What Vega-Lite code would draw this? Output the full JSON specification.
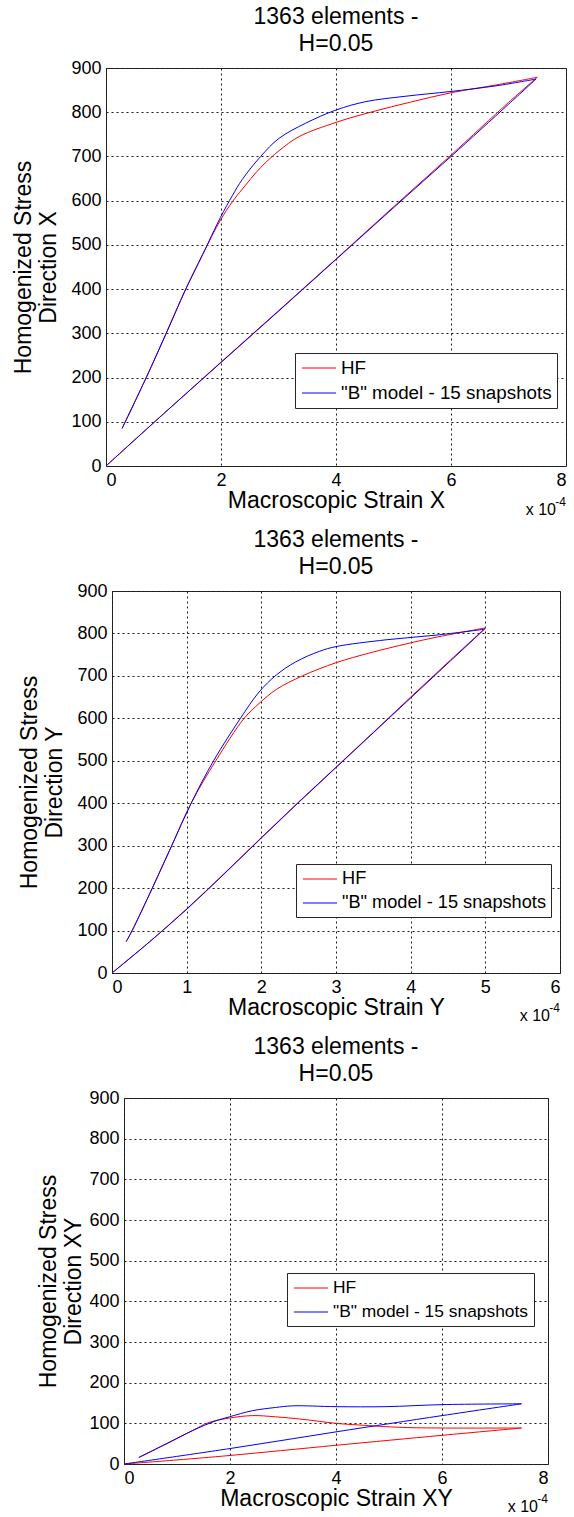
{
  "$schema": "https://vega.github.io/schema/vega-lite/v6.json",
  "padding": {"left": 12, "top": 5, "right": 5, "bottom": 5},
  "datasets": {
    "curves": [
      {"panel": "X", "series": "HF", "branch": "loading", "step": 1, "strain": 0.28, "stress": 85},
      {"panel": "X", "series": "HF", "branch": "loading", "step": 2, "strain": 0.7, "stress": 200},
      {"panel": "X", "series": "HF", "branch": "loading", "step": 3, "strain": 1.04, "stress": 298},
      {"panel": "X", "series": "HF", "branch": "loading", "step": 4, "strain": 1.38, "stress": 398},
      {"panel": "X", "series": "HF", "branch": "loading", "step": 5, "strain": 1.68, "stress": 478},
      {"panel": "X", "series": "HF", "branch": "loading", "step": 6, "strain": 1.99, "stress": 556},
      {"panel": "X", "series": "HF", "branch": "loading", "step": 7, "strain": 2.2, "stress": 598},
      {"panel": "X", "series": "HF", "branch": "loading", "step": 8, "strain": 2.37, "stress": 626},
      {"panel": "X", "series": "HF", "branch": "loading", "step": 9, "strain": 2.69, "stress": 675},
      {"panel": "X", "series": "HF", "branch": "loading", "step": 10, "strain": 3.01, "stress": 713},
      {"panel": "X", "series": "HF", "branch": "loading", "step": 11, "strain": 3.36, "stress": 745},
      {"panel": "X", "series": "HF", "branch": "loading", "step": 12, "strain": 4.0, "stress": 777},
      {"panel": "X", "series": "HF", "branch": "loading", "step": 13, "strain": 4.63, "stress": 801},
      {"panel": "X", "series": "HF", "branch": "loading", "step": 14, "strain": 5.3, "stress": 823},
      {"panel": "X", "series": "HF", "branch": "loading", "step": 15, "strain": 6.0, "stress": 844},
      {"panel": "X", "series": "HF", "branch": "loading", "step": 16, "strain": 6.8, "stress": 862},
      {"panel": "X", "series": "HF", "branch": "loading", "step": 17, "strain": 7.5, "stress": 879},
      {"panel": "X", "series": "HF", "branch": "unloading", "step": 17, "strain": 7.5, "stress": 879},
      {"panel": "X", "series": "HF", "branch": "unloading", "step": 18, "strain": 7.0, "stress": 822},
      {"panel": "X", "series": "HF", "branch": "unloading", "step": 19, "strain": 6.0, "stress": 703},
      {"panel": "X", "series": "HF", "branch": "unloading", "step": 20, "strain": 5.0, "stress": 586},
      {"panel": "X", "series": "HF", "branch": "unloading", "step": 21, "strain": 4.0, "stress": 468},
      {"panel": "X", "series": "HF", "branch": "unloading", "step": 22, "strain": 3.0, "stress": 351},
      {"panel": "X", "series": "HF", "branch": "unloading", "step": 23, "strain": 2.0, "stress": 235},
      {"panel": "X", "series": "HF", "branch": "unloading", "step": 24, "strain": 1.0, "stress": 118},
      {"panel": "X", "series": "HF", "branch": "unloading", "step": 25, "strain": 0, "stress": 0},

      {"panel": "X", "series": "\"B\" model - 15 snapshots", "branch": "loading", "step": 1, "strain": 0.28, "stress": 85},
      {"panel": "X", "series": "\"B\" model - 15 snapshots", "branch": "loading", "step": 2, "strain": 0.7, "stress": 200},
      {"panel": "X", "series": "\"B\" model - 15 snapshots", "branch": "loading", "step": 3, "strain": 1.04, "stress": 298},
      {"panel": "X", "series": "\"B\" model - 15 snapshots", "branch": "loading", "step": 4, "strain": 1.38, "stress": 398},
      {"panel": "X", "series": "\"B\" model - 15 snapshots", "branch": "loading", "step": 5, "strain": 1.68, "stress": 478},
      {"panel": "X", "series": "\"B\" model - 15 snapshots", "branch": "loading", "step": 6, "strain": 1.99, "stress": 562},
      {"panel": "X", "series": "\"B\" model - 15 snapshots", "branch": "loading", "step": 7, "strain": 2.2, "stress": 612},
      {"panel": "X", "series": "\"B\" model - 15 snapshots", "branch": "loading", "step": 8, "strain": 2.37, "stress": 648},
      {"panel": "X", "series": "\"B\" model - 15 snapshots", "branch": "loading", "step": 9, "strain": 2.69, "stress": 700},
      {"panel": "X", "series": "\"B\" model - 15 snapshots", "branch": "loading", "step": 10, "strain": 3.01, "stress": 741},
      {"panel": "X", "series": "\"B\" model - 15 snapshots", "branch": "loading", "step": 11, "strain": 3.47, "stress": 775},
      {"panel": "X", "series": "\"B\" model - 15 snapshots", "branch": "loading", "step": 12, "strain": 4.0, "stress": 805},
      {"panel": "X", "series": "\"B\" model - 15 snapshots", "branch": "loading", "step": 13, "strain": 4.52, "stress": 824},
      {"panel": "X", "series": "\"B\" model - 15 snapshots", "branch": "loading", "step": 14, "strain": 5.2, "stress": 836},
      {"panel": "X", "series": "\"B\" model - 15 snapshots", "branch": "loading", "step": 15, "strain": 6.0, "stress": 847},
      {"panel": "X", "series": "\"B\" model - 15 snapshots", "branch": "loading", "step": 16, "strain": 6.8, "stress": 860},
      {"panel": "X", "series": "\"B\" model - 15 snapshots", "branch": "loading", "step": 17, "strain": 7.48, "stress": 875},
      {"panel": "X", "series": "\"B\" model - 15 snapshots", "branch": "unloading", "step": 17, "strain": 7.48, "stress": 875},
      {"panel": "X", "series": "\"B\" model - 15 snapshots", "branch": "unloading", "step": 18, "strain": 7.0, "stress": 818},
      {"panel": "X", "series": "\"B\" model - 15 snapshots", "branch": "unloading", "step": 19, "strain": 6.0, "stress": 700},
      {"panel": "X", "series": "\"B\" model - 15 snapshots", "branch": "unloading", "step": 20, "strain": 5.0, "stress": 584},
      {"panel": "X", "series": "\"B\" model - 15 snapshots", "branch": "unloading", "step": 21, "strain": 4.0, "stress": 467},
      {"panel": "X", "series": "\"B\" model - 15 snapshots", "branch": "unloading", "step": 22, "strain": 3.0, "stress": 350},
      {"panel": "X", "series": "\"B\" model - 15 snapshots", "branch": "unloading", "step": 23, "strain": 2.0, "stress": 234},
      {"panel": "X", "series": "\"B\" model - 15 snapshots", "branch": "unloading", "step": 24, "strain": 1.0, "stress": 118},
      {"panel": "X", "series": "\"B\" model - 15 snapshots", "branch": "unloading", "step": 25, "strain": 0, "stress": 0},

      {"panel": "Y", "series": "HF", "branch": "loading", "step": 1, "strain": 0.19, "stress": 74},
      {"panel": "Y", "series": "HF", "branch": "loading", "step": 2, "strain": 0.27, "stress": 100},
      {"panel": "Y", "series": "HF", "branch": "loading", "step": 3, "strain": 0.54, "stress": 200},
      {"panel": "Y", "series": "HF", "branch": "loading", "step": 4, "strain": 0.8, "stress": 300},
      {"panel": "Y", "series": "HF", "branch": "loading", "step": 5, "strain": 1.06, "stress": 400},
      {"panel": "Y", "series": "HF", "branch": "loading", "step": 6, "strain": 1.39, "stress": 500},
      {"panel": "Y", "series": "HF", "branch": "loading", "step": 7, "strain": 1.77, "stress": 600},
      {"panel": "Y", "series": "HF", "branch": "loading", "step": 8, "strain": 1.97, "stress": 635},
      {"panel": "Y", "series": "HF", "branch": "loading", "step": 9, "strain": 2.2, "stress": 668},
      {"panel": "Y", "series": "HF", "branch": "loading", "step": 10, "strain": 2.55, "stress": 700},
      {"panel": "Y", "series": "HF", "branch": "loading", "step": 11, "strain": 3.0, "stress": 731},
      {"panel": "Y", "series": "HF", "branch": "loading", "step": 12, "strain": 3.45, "stress": 754},
      {"panel": "Y", "series": "HF", "branch": "loading", "step": 13, "strain": 3.98, "stress": 777},
      {"panel": "Y", "series": "HF", "branch": "loading", "step": 14, "strain": 4.34, "stress": 791},
      {"panel": "Y", "series": "HF", "branch": "loading", "step": 15, "strain": 5.0, "stress": 813},
      {"panel": "Y", "series": "HF", "branch": "unloading", "step": 15, "strain": 5.0, "stress": 813},
      {"panel": "Y", "series": "HF", "branch": "unloading", "step": 16, "strain": 4.5, "stress": 732},
      {"panel": "Y", "series": "HF", "branch": "unloading", "step": 17, "strain": 4.0, "stress": 650},
      {"panel": "Y", "series": "HF", "branch": "unloading", "step": 18, "strain": 3.5, "stress": 567},
      {"panel": "Y", "series": "HF", "branch": "unloading", "step": 19, "strain": 3.0, "stress": 485},
      {"panel": "Y", "series": "HF", "branch": "unloading", "step": 20, "strain": 2.5, "stress": 403},
      {"panel": "Y", "series": "HF", "branch": "unloading", "step": 21, "strain": 2.0, "stress": 319},
      {"panel": "Y", "series": "HF", "branch": "unloading", "step": 22, "strain": 1.5, "stress": 234},
      {"panel": "Y", "series": "HF", "branch": "unloading", "step": 23, "strain": 1.0, "stress": 151},
      {"panel": "Y", "series": "HF", "branch": "unloading", "step": 24, "strain": 0.5, "stress": 73},
      {"panel": "Y", "series": "HF", "branch": "unloading", "step": 25, "strain": 0, "stress": 0},

      {"panel": "Y", "series": "\"B\" model - 15 snapshots", "branch": "loading", "step": 1, "strain": 0.19, "stress": 74},
      {"panel": "Y", "series": "\"B\" model - 15 snapshots", "branch": "loading", "step": 2, "strain": 0.27, "stress": 100},
      {"panel": "Y", "series": "\"B\" model - 15 snapshots", "branch": "loading", "step": 3, "strain": 0.54, "stress": 200},
      {"panel": "Y", "series": "\"B\" model - 15 snapshots", "branch": "loading", "step": 4, "strain": 0.8, "stress": 300},
      {"panel": "Y", "series": "\"B\" model - 15 snapshots", "branch": "loading", "step": 5, "strain": 1.06, "stress": 400},
      {"panel": "Y", "series": "\"B\" model - 15 snapshots", "branch": "loading", "step": 6, "strain": 1.36, "stress": 500},
      {"panel": "Y", "series": "\"B\" model - 15 snapshots", "branch": "loading", "step": 7, "strain": 1.72, "stress": 600},
      {"panel": "Y", "series": "\"B\" model - 15 snapshots", "branch": "loading", "step": 8, "strain": 1.97, "stress": 662},
      {"panel": "Y", "series": "\"B\" model - 15 snapshots", "branch": "loading", "step": 9, "strain": 2.2, "stress": 702},
      {"panel": "Y", "series": "\"B\" model - 15 snapshots", "branch": "loading", "step": 10, "strain": 2.46, "stress": 733},
      {"panel": "Y", "series": "\"B\" model - 15 snapshots", "branch": "loading", "step": 11, "strain": 2.78, "stress": 758},
      {"panel": "Y", "series": "\"B\" model - 15 snapshots", "branch": "loading", "step": 12, "strain": 3.0, "stress": 769},
      {"panel": "Y", "series": "\"B\" model - 15 snapshots", "branch": "loading", "step": 13, "strain": 3.67, "stress": 785},
      {"panel": "Y", "series": "\"B\" model - 15 snapshots", "branch": "loading", "step": 14, "strain": 4.34, "stress": 796},
      {"panel": "Y", "series": "\"B\" model - 15 snapshots", "branch": "loading", "step": 15, "strain": 4.99, "stress": 810},
      {"panel": "Y", "series": "\"B\" model - 15 snapshots", "branch": "unloading", "step": 15, "strain": 4.99, "stress": 810},
      {"panel": "Y", "series": "\"B\" model - 15 snapshots", "branch": "unloading", "step": 16, "strain": 4.5, "stress": 730},
      {"panel": "Y", "series": "\"B\" model - 15 snapshots", "branch": "unloading", "step": 17, "strain": 4.0, "stress": 648},
      {"panel": "Y", "series": "\"B\" model - 15 snapshots", "branch": "unloading", "step": 18, "strain": 3.5, "stress": 566},
      {"panel": "Y", "series": "\"B\" model - 15 snapshots", "branch": "unloading", "step": 19, "strain": 3.0, "stress": 484},
      {"panel": "Y", "series": "\"B\" model - 15 snapshots", "branch": "unloading", "step": 20, "strain": 2.5, "stress": 402},
      {"panel": "Y", "series": "\"B\" model - 15 snapshots", "branch": "unloading", "step": 21, "strain": 2.0, "stress": 318},
      {"panel": "Y", "series": "\"B\" model - 15 snapshots", "branch": "unloading", "step": 22, "strain": 1.5, "stress": 233},
      {"panel": "Y", "series": "\"B\" model - 15 snapshots", "branch": "unloading", "step": 23, "strain": 1.0, "stress": 150},
      {"panel": "Y", "series": "\"B\" model - 15 snapshots", "branch": "unloading", "step": 24, "strain": 0.5, "stress": 73},
      {"panel": "Y", "series": "\"B\" model - 15 snapshots", "branch": "unloading", "step": 25, "strain": 0, "stress": 0},

      {"panel": "XY", "series": "HF", "branch": "loading", "step": 1, "strain": 0.28, "stress": 16},
      {"panel": "XY", "series": "HF", "branch": "loading", "step": 2, "strain": 0.85, "stress": 53},
      {"panel": "XY", "series": "HF", "branch": "loading", "step": 3, "strain": 1.29, "stress": 82},
      {"panel": "XY", "series": "HF", "branch": "loading", "step": 4, "strain": 1.6, "stress": 102},
      {"panel": "XY", "series": "HF", "branch": "loading", "step": 5, "strain": 1.99, "stress": 113},
      {"panel": "XY", "series": "HF", "branch": "loading", "step": 6, "strain": 2.42, "stress": 119},
      {"panel": "XY", "series": "HF", "branch": "loading", "step": 7, "strain": 2.86, "stress": 116},
      {"panel": "XY", "series": "HF", "branch": "loading", "step": 8, "strain": 3.36, "stress": 110},
      {"panel": "XY", "series": "HF", "branch": "loading", "step": 9, "strain": 4.0, "stress": 100},
      {"panel": "XY", "series": "HF", "branch": "loading", "step": 10, "strain": 4.43, "stress": 96},
      {"panel": "XY", "series": "HF", "branch": "loading", "step": 11, "strain": 5.25, "stress": 90},
      {"panel": "XY", "series": "HF", "branch": "loading", "step": 12, "strain": 6.0, "stress": 88.5},
      {"panel": "XY", "series": "HF", "branch": "loading", "step": 13, "strain": 7.5, "stress": 88.5},
      {"panel": "XY", "series": "HF", "branch": "unloading", "step": 13, "strain": 7.5, "stress": 88.5},
      {"panel": "XY", "series": "HF", "branch": "unloading", "step": 14, "strain": 6.0, "stress": 70.5},
      {"panel": "XY", "series": "HF", "branch": "unloading", "step": 15, "strain": 4.0, "stress": 46},
      {"panel": "XY", "series": "HF", "branch": "unloading", "step": 16, "strain": 2.0, "stress": 21},
      {"panel": "XY", "series": "HF", "branch": "unloading", "step": 17, "strain": 1.0, "stress": 10},
      {"panel": "XY", "series": "HF", "branch": "unloading", "step": 18, "strain": 0, "stress": 0},

      {"panel": "XY", "series": "\"B\" model - 15 snapshots", "branch": "loading", "step": 1, "strain": 0.28, "stress": 16},
      {"panel": "XY", "series": "\"B\" model - 15 snapshots", "branch": "loading", "step": 2, "strain": 0.85, "stress": 53},
      {"panel": "XY", "series": "\"B\" model - 15 snapshots", "branch": "loading", "step": 3, "strain": 1.29, "stress": 82},
      {"panel": "XY", "series": "\"B\" model - 15 snapshots", "branch": "loading", "step": 4, "strain": 1.73, "stress": 106},
      {"panel": "XY", "series": "\"B\" model - 15 snapshots", "branch": "loading", "step": 5, "strain": 1.99, "stress": 116},
      {"panel": "XY", "series": "\"B\" model - 15 snapshots", "branch": "loading", "step": 6, "strain": 2.42, "stress": 131},
      {"panel": "XY", "series": "\"B\" model - 15 snapshots", "branch": "loading", "step": 7, "strain": 2.86, "stress": 139},
      {"panel": "XY", "series": "\"B\" model - 15 snapshots", "branch": "loading", "step": 8, "strain": 3.18, "stress": 143},
      {"panel": "XY", "series": "\"B\" model - 15 snapshots", "branch": "loading", "step": 9, "strain": 4.0, "stress": 141},
      {"panel": "XY", "series": "\"B\" model - 15 snapshots", "branch": "loading", "step": 10, "strain": 4.94, "stress": 141},
      {"panel": "XY", "series": "\"B\" model - 15 snapshots", "branch": "loading", "step": 11, "strain": 6.0, "stress": 146},
      {"panel": "XY", "series": "\"B\" model - 15 snapshots", "branch": "loading", "step": 12, "strain": 7.5, "stress": 148},
      {"panel": "XY", "series": "\"B\" model - 15 snapshots", "branch": "unloading", "step": 12, "strain": 7.5, "stress": 148},
      {"panel": "XY", "series": "\"B\" model - 15 snapshots", "branch": "unloading", "step": 13, "strain": 6.0, "stress": 119},
      {"panel": "XY", "series": "\"B\" model - 15 snapshots", "branch": "unloading", "step": 14, "strain": 4.0, "stress": 79},
      {"panel": "XY", "series": "\"B\" model - 15 snapshots", "branch": "unloading", "step": 15, "strain": 2.0, "stress": 38},
      {"panel": "XY", "series": "\"B\" model - 15 snapshots", "branch": "unloading", "step": 16, "strain": 0, "stress": 0}
    ],
    "multiplier": [{"base": "x 10", "exponent": "-4"}]
  },
  "vconcat": [
    {
      "width": 460,
      "height": 398,
      "title": {"text": ["1363 elements -", "H=0.05"]},
      "data": {"name": "curves"},
      "transform": [{"filter": "datum.panel === 'X'"}],
      "layer": [
        {
          "transform": [{"filter": "datum.series === 'HF'"}],
          "mark": {"type": "line", "strokeWidth": 1, "interpolate": "catmull-rom"},
          "encoding": {
            "x": {"field": "strain", "type": "quantitative", "scale": {"domain": [0, 8], "nice": false}, "axis": {"values": [0, 2, 4, 6, 8], "format": "d"}, "title": "Macroscopic Strain X"},
            "y": {"field": "stress", "type": "quantitative", "scale": {"domain": [0, 900], "nice": false}, "axis": {"values": [0, 100, 200, 300, 400, 500, 600, 700, 800, 900]}, "title": ["Homogenized Stress", "Direction X"]},
            "order": {"field": "step"},
            "detail": {"field": "branch"},
            "color": {"field": "series", "type": "nominal", "scale": {"domain": ["HF", "\"B\" model - 15 snapshots"], "range": ["#ff0000", "#0000ff"]}, "legend": {"orient": "none", "legendX": 189, "legendY": 285, "title": null, "labelFontSize": 18.8, "symbolType": "M-1.8,0H1.8"}}
          }
        },
        {
          "transform": [{"filter": "datum.series !== 'HF'"}],
          "mark": {"type": "line", "strokeWidth": 1, "interpolate": "catmull-rom"},
          "encoding": {
            "x": {"field": "strain", "type": "quantitative"},
            "y": {"field": "stress", "type": "quantitative"},
            "order": {"field": "step"},
            "detail": {"field": "branch"},
            "color": {"field": "series", "type": "nominal"}
          }
        },
        {
          "data": {"name": "multiplier"},
          "mark": {"type": "text", "align": "right", "baseline": "alphabetic", "dx": -10, "dy": 49, "fontSize": 16, "font": "Liberation Sans", "color": "#000"},
          "encoding": {"x": {"datum": 8, "type": "quantitative"}, "y": {"datum": 0, "type": "quantitative"}, "text": {"field": "base"}}
        },
        {
          "data": {"name": "multiplier"},
          "mark": {"type": "text", "align": "right", "baseline": "alphabetic", "dx": 0, "dy": 40, "fontSize": 12, "font": "Liberation Sans", "color": "#000"},
          "encoding": {"x": {"datum": 8, "type": "quantitative"}, "y": {"datum": 0, "type": "quantitative"}, "text": {"field": "exponent"}}
        }
      ]
    },
    {
      "width": 448,
      "height": 382,
      "title": {"text": ["1363 elements -", "H=0.05"]},
      "data": {"name": "curves"},
      "transform": [{"filter": "datum.panel === 'Y'"}],
      "layer": [
        {
          "transform": [{"filter": "datum.series === 'HF'"}],
          "mark": {"type": "line", "strokeWidth": 1, "interpolate": "catmull-rom"},
          "encoding": {
            "x": {"field": "strain", "type": "quantitative", "scale": {"domain": [0, 6], "nice": false}, "axis": {"values": [0, 1, 2, 3, 4, 5, 6], "format": "d"}, "title": "Macroscopic Strain Y"},
            "y": {"field": "stress", "type": "quantitative", "scale": {"domain": [0, 900], "nice": false}, "axis": {"values": [0, 100, 200, 300, 400, 500, 600, 700, 800, 900]}, "title": ["Homogenized Stress", "Direction Y"]},
            "order": {"field": "step"},
            "detail": {"field": "branch"},
            "color": {"field": "series", "type": "nominal", "scale": {"domain": ["HF", "\"B\" model - 15 snapshots"], "range": ["#ff0000", "#0000ff"]}, "legend": {"orient": "none", "legendX": 184, "legendY": 273, "title": null, "labelFontSize": 18.2, "symbolType": "M-1.8,0H1.8"}}
          }
        },
        {
          "transform": [{"filter": "datum.series !== 'HF'"}],
          "mark": {"type": "line", "strokeWidth": 1, "interpolate": "catmull-rom"},
          "encoding": {
            "x": {"field": "strain", "type": "quantitative"},
            "y": {"field": "stress", "type": "quantitative"},
            "order": {"field": "step"},
            "detail": {"field": "branch"},
            "color": {"field": "series", "type": "nominal"}
          }
        },
        {
          "data": {"name": "multiplier"},
          "mark": {"type": "text", "align": "right", "baseline": "alphabetic", "dx": -10, "dy": 48, "fontSize": 16, "font": "Liberation Sans", "color": "#000"},
          "encoding": {"x": {"datum": 6, "type": "quantitative"}, "y": {"datum": 0, "type": "quantitative"}, "text": {"field": "base"}}
        },
        {
          "data": {"name": "multiplier"},
          "mark": {"type": "text", "align": "right", "baseline": "alphabetic", "dx": 0, "dy": 39, "fontSize": 12, "font": "Liberation Sans", "color": "#000"},
          "encoding": {"x": {"datum": 6, "type": "quantitative"}, "y": {"datum": 0, "type": "quantitative"}, "text": {"field": "exponent"}}
        }
      ]
    },
    {
      "width": 424,
      "height": 366,
      "title": {"text": ["1363 elements -", "H=0.05"]},
      "data": {"name": "curves"},
      "transform": [{"filter": "datum.panel === 'XY'"}],
      "layer": [
        {
          "transform": [{"filter": "datum.series === 'HF'"}],
          "mark": {"type": "line", "strokeWidth": 1, "interpolate": "catmull-rom"},
          "encoding": {
            "x": {"field": "strain", "type": "quantitative", "scale": {"domain": [0, 8], "nice": false}, "axis": {"values": [0, 2, 4, 6, 8], "format": "d"}, "title": "Macroscopic Strain XY"},
            "y": {"field": "stress", "type": "quantitative", "scale": {"domain": [0, 900], "nice": false}, "axis": {"values": [0, 100, 200, 300, 400, 500, 600, 700, 800, 900], "titlePadding": 3}, "title": ["Homogenized Stress", "Direction XY"]},
            "order": {"field": "step"},
            "detail": {"field": "branch"},
            "color": {"field": "series", "type": "nominal", "scale": {"domain": ["HF", "\"B\" model - 15 snapshots"], "range": ["#ff0000", "#0000ff"]}, "legend": {"orient": "none", "legendX": 163, "legendY": 175, "title": null, "labelFontSize": 17.4, "symbolType": "M-1.8,0H1.8"}}
          }
        },
        {
          "transform": [{"filter": "datum.series !== 'HF'"}],
          "mark": {"type": "line", "strokeWidth": 1, "interpolate": "catmull-rom"},
          "encoding": {
            "x": {"field": "strain", "type": "quantitative"},
            "y": {"field": "stress", "type": "quantitative"},
            "order": {"field": "step"},
            "detail": {"field": "branch"},
            "color": {"field": "series", "type": "nominal"}
          }
        },
        {
          "data": {"name": "multiplier"},
          "mark": {"type": "text", "align": "right", "baseline": "alphabetic", "dx": -10, "dy": 48, "fontSize": 16, "font": "Liberation Sans", "color": "#000"},
          "encoding": {"x": {"datum": 8, "type": "quantitative"}, "y": {"datum": 0, "type": "quantitative"}, "text": {"field": "base"}}
        },
        {
          "data": {"name": "multiplier"},
          "mark": {"type": "text", "align": "right", "baseline": "alphabetic", "dx": 0, "dy": 39, "fontSize": 12, "font": "Liberation Sans", "color": "#000"},
          "encoding": {"x": {"datum": 8, "type": "quantitative"}, "y": {"datum": 0, "type": "quantitative"}, "text": {"field": "exponent"}}
        }
      ]
    }
  ],
  "spacing": 125,
  "bounds": "flush",
  "center": true,
  "resolve": {"scale": {"x": "independent", "y": "independent", "color": "independent"}},
  "config": {
    "font": "Liberation Sans",
    "background": "#ffffff",
    "view": {"stroke": "#262626", "strokeWidth": 1},
    "axis": {
      "labelFont": "Liberation Sans",
      "labelFontSize": 18,
      "labelColor": "#000000",
      "labelPadding": 5,
      "titleFont": "Liberation Sans",
      "titleFontSize": 23,
      "titleFontWeight": "normal",
      "titleColor": "#000000",
      "ticks": false,
      "domain": false,
      "grid": true,
      "gridColor": "#1a1a1a",
      "gridDash": [2, 3],
      "gridOpacity": 1,
      "gridWidth": 1
    },
    "axisY": {"titlePadding": 10, "titleLineHeight": 25},
    "axisX": {"titlePadding": 0},
    "title": {"font": "Liberation Sans", "fontSize": 23, "fontWeight": "normal", "color": "#000000", "lineHeight": 27, "offset": 3, "anchor": "middle", "frame": "group"},
    "legend": {
      "strokeColor": "#262626",
      "fillColor": "#ffffff",
      "padding": 5,
      "labelFont": "Liberation Sans",
      "labelColor": "#000000",
      "labelLimit": 400,
      "labelOffset": 12,
      "rowPadding": 5,
      "symbolOffset": 9,
      "symbolSize": 361,
      "symbolStrokeWidth": 1
    }
  }
}
